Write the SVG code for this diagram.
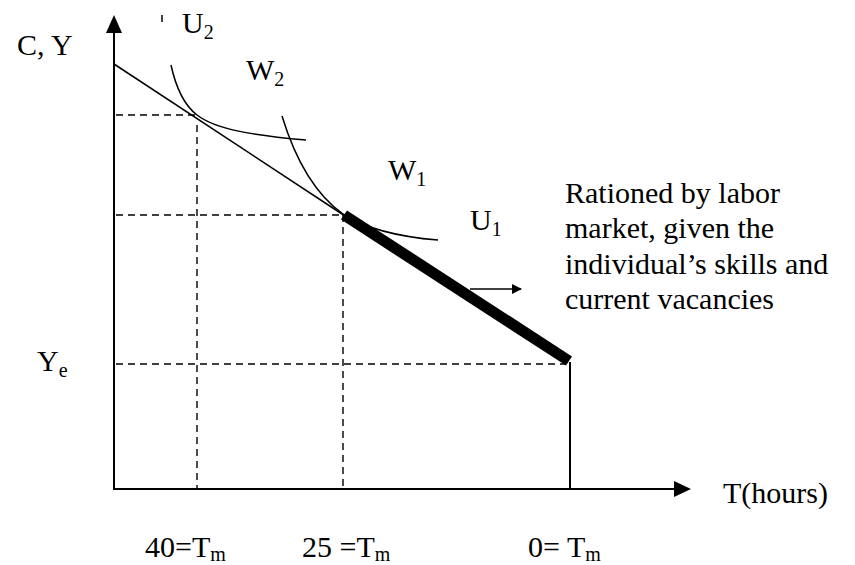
<svg xmlns="http://www.w3.org/2000/svg" width="855" height="565" viewBox="0 0 855 565">
<style>
.t{font-family:"Liberation Serif","Times New Roman",serif;font-size:30px;fill:#000}
.s{font-size:20px}
.ax{stroke:#000;stroke-width:2;fill:none}
.dash{stroke:#000;stroke-width:1.4;stroke-dasharray:7 5;fill:none}
.thin{stroke:#000;stroke-width:1.5;fill:none}
</style>
<defs>
<marker id="ah" markerWidth="10" markerHeight="10" refX="9" refY="5" orient="auto" markerUnits="userSpaceOnUse" viewBox="0 0 10 10"><path d="M0,0 L10,5 L0,10 Z" fill="#000"/></marker>
</defs>
<rect width="855" height="565" fill="#fff"/>
<g id="axes">
<line class="ax" x1="114" y1="489" x2="114" y2="32"/>
<polygon points="114,15 106,33 122,33" fill="#000"/>
<line class="ax" x1="113" y1="489" x2="675" y2="489"/>
<polygon points="691,489 674,481 674,497" fill="#000"/>
</g>
<g id="guides">
<line class="dash" x1="116" y1="115" x2="197" y2="115"/>
<line class="dash" x1="197" y1="125" x2="197" y2="489"/>
<line class="dash" x1="116" y1="215" x2="343" y2="215"/>
<line class="dash" x1="343" y1="215" x2="343" y2="489"/>
<line class="dash" x1="116" y1="364" x2="566" y2="364"/>
<line class="ax" x1="570" y1="362" x2="570" y2="489"/>
<line class="thin" x1="162" y1="15" x2="162" y2="22"/>
</g>
<g id="budget">
<line class="thin" x1="114" y1="64" x2="345" y2="216"/>
<line x1="344" y1="215" x2="569" y2="361" stroke="#000" stroke-width="11"/>
</g>
<g id="U2curve">
<path class="thin" d="M171,65 C176,88 184,105 197,115 C215,129 250,135 306,140"/>
</g>
<g id="U1curve">
<path class="thin" d="M282,116 C293,152 312,192 343,214 C368,230 400,237 438,240"/>
</g>
<g id="connectors">
<line class="thin" x1="470" y1="289" x2="521" y2="289" marker-end="url(#ah)"/>
</g>
<g id="labels">
<text class="t" x="17" y="55">C, Y</text>
<text class="t" x="182" y="33">U<tspan class="s" dy="6">2</tspan></text>
<text class="t" x="246" y="80">W<tspan class="s" dy="6">2</tspan></text>
<text class="t" x="388" y="180">W<tspan class="s" dy="6">1</tspan></text>
<text class="t" x="470" y="230">U<tspan class="s" dy="6">1</tspan></text>
<text class="t" x="565" y="203">Rationed by labor</text>
<text class="t" x="565" y="238">market, given the</text>
<text class="t" x="565" y="274">individual’s skills and</text>
<text class="t" x="565" y="309">current vacancies</text>
<text class="t" x="37" y="371">Y<tspan class="s" dy="6">e</tspan></text>
<text class="t" x="723" y="503">T(hours)</text>
<text class="t" x="145" y="557">40=T<tspan class="s" dy="4">m</tspan></text>
<text class="t" x="302" y="557">25 =T<tspan class="s" dy="4">m</tspan></text>
<text class="t" x="528" y="557">0= T<tspan class="s" dy="4">m</tspan></text>
</g>
</svg>
